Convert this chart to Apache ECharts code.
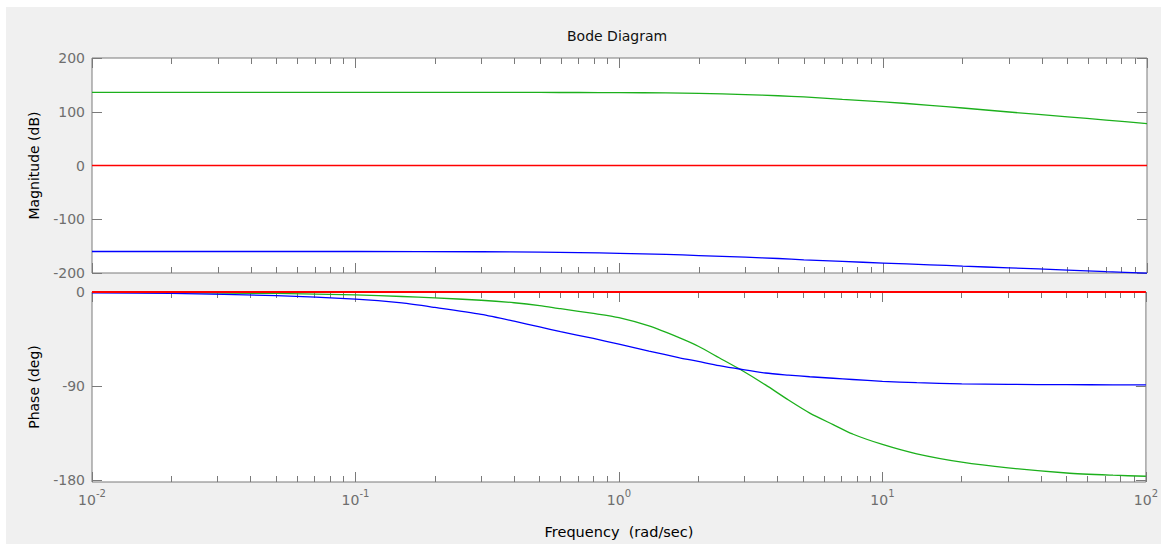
<!DOCTYPE html>
<html>
<head>
<meta charset="utf-8">
<script src="https://cdn.jsdelivr.net/npm/echarts@6/dist/echarts.min.js"></script>
<style>
html, body { margin: 0; padding: 0; background: #ffffff; width: 1169px; height: 544px; overflow: hidden; }
#chart { position: absolute; left: 6px; top: 7px; width: 1155px; height: 537px; background: #f0f0f0; }
</style>
</head>
<body>
<div id="chart"></div>
<script>
// ---- data ----
const titleText = 'Bode Diagram';
const magAxisName = 'Magnitude (dB)';
const phaseAxisName = 'Phase (deg)';
const freqAxisName = 'Frequency \u00a0(rad/sec)';

const freqMag   = [0.01, 0.1, 0.3, 0.5, 0.7, 1, 1.5, 2, 3, 4, 5, 7, 10, 15, 20, 30, 50, 70, 100];
const magGreen  = [136, 136, 136, 135.9, 135.8, 135.6, 135, 134.2, 132, 129.8, 127.5, 123, 118.5, 112, 107, 99.5, 90.5, 84.5, 78];
const magBlue   = [-160, -160, -160.5, -161, -162, -163.5, -165.5, -167.5, -170.5, -173, -175.5, -178.5, -181.5, -184.8, -187.2, -190.5, -194.5, -197.5, -200.5];

const freqPhase  = [0.01, 0.02, 0.05, 0.1, 0.15, 0.2, 0.3, 0.4, 0.5, 0.6, 0.8, 1, 1.3, 1.7, 2, 2.4, 2.9, 3.6, 4.4, 5.3, 6.5, 7.7, 10, 13.5, 20, 30, 50, 75, 100];
const phaseBlue  = [-0.7, -1.4, -3.4, -6.8, -10.5, -14.8, -21.5, -28, -33.5, -38, -44.5, -50, -56.6, -63, -66.5, -70.5, -74, -77.6, -79.6, -81.2, -82.6, -83.8, -85.6, -86.9, -88, -88.5, -88.8, -88.9, -89];
const phaseGreen = [-0.3, -0.6, -1.4, -2.8, -4.3, -5.6, -7.9, -10.3, -13, -16, -20.5, -24.5, -32.5, -44, -52, -63, -74.5, -89, -103.5, -116, -127, -136, -146, -155, -163, -168.5, -173.4, -175.5, -176.5];

const freqRed  = [0.01, 100];
const magRed   = [0, 0];
const phaseRed = [0, 0];

const magTicks   = [-200, -100, 0, 100, 200];
const phaseTicks = [-180, -90, 0];
const decadeExps = [-2, -1, 0, 1, 2];
const minorMult  = [2, 3, 4, 5, 6, 7, 8, 9];

// ---- styling ----
const FONT = 'DejaVu Sans';
const AXC = '#7a7a7a';
const LBC = '#6e6e6e';
const GREEN = '#1cb01c';
const BLUE = '#0000ff';
const RED = '#ff0000';

const minorPos = [];
decadeExps.slice(0, -1).forEach(function (e) {
  minorMult.forEach(function (k) { minorPos.push(e + Math.log10(k)); });
});

const pair = (xs, ys) => xs.map((x, i) => [x, ys[i]]);

const grids = [
  { left: 86, width: 1055, top: 51, height: 215 },
  { left: 86, width: 1055, top: 285, height: 190 }
];

function majorX(gridIndex, position, showLabels, name) {
  const ax = {
    type: 'log', logBase: 10, min: 0.01, max: 100, gridIndex: gridIndex, position: position,
    splitNumber: 4,
    axisLine: { show: false, onZero: false },
    splitLine: { show: false },
    axisTick: { show: true, inside: true, length: 10, lineStyle: { color: AXC, width: 1 } },
    axisLabel: { show: false }
  };
  if (showLabels) {
    ax.axisLabel = {
      show: true, margin: 6,
      formatter: function (v) {
        const e = Math.round(Math.log10(v));
        return '{b|10}{s|' + e + '}';
      },
      rich: {
        b: { fontFamily: FONT, fontSize: 14, color: LBC, verticalAlign: 'bottom' },
        s: { fontFamily: FONT, fontSize: 10, color: LBC, verticalAlign: 'bottom', padding: [0, 0, 9, 0] }
      }
    };
  }
  if (name) {
    ax.name = name;
    ax.nameLocation = 'middle';
    ax.nameGap = 42;
    ax.nameTextStyle = { fontFamily: FONT, fontSize: 14.5, color: '#000' };
  }
  return ax;
}
function minorX(gridIndex, position) {
  return {
    type: 'value', min: -2, max: 2, gridIndex: gridIndex, position: position,
    axisLine: { show: false, onZero: false }, splitLine: { show: false }, axisLabel: { show: false },
    axisTick: { show: true, inside: true, length: 6, customValues: minorPos, lineStyle: { color: AXC, width: 1 } }
  };
}
function yAx(gridIndex, position, min, max, ticks, labels, name) {
  const ax = {
    type: 'value', min: min, max: max, gridIndex: gridIndex, position: position,
    axisLine: { show: false, onZero: false }, splitLine: { show: false },
    axisTick: { show: true, inside: true, length: 10, customValues: ticks, lineStyle: { color: AXC, width: 1 } },
    axisLabel: labels ? { show: true, customValues: ticks, margin: 7, fontFamily: FONT, fontSize: 14, color: LBC } : { show: false }
  };
  if (name) {
    ax.name = name;
    ax.nameLocation = 'middle';
    ax.nameRotate = 90;
    ax.nameGap = 51;
    ax.nameTextStyle = { fontFamily: FONT, fontSize: 14, color: '#000' };
  }
  return ax;
}

const lineS = (color, xi, yi, xs, ys) => ({
  type: 'line', xAxisIndex: xi, yAxisIndex: yi, data: pair(xs, ys), showSymbol: false,
  smooth: 0.25, lineStyle: { color: color, width: 1.3 }, clip: true
});

const chart = echarts.init(document.getElementById('chart'), null, { renderer: 'svg' });
chart.setOption({
  animation: false,
  backgroundColor: '#f0f0f0',
  title: {
    text: titleText, left: 561, top: 22, padding: 0,
    textStyle: { fontFamily: FONT, fontSize: 14, fontWeight: 'normal', color: '#111' }
  },
  grid: grids.map(g => Object.assign({ show: true, backgroundColor: '#ffffff', borderColor: AXC, borderWidth: 1 }, g)),
  xAxis: [
    majorX(0, 'bottom', false), minorX(0, 'bottom'), majorX(0, 'top', false), minorX(0, 'top'),
    majorX(1, 'bottom', true, freqAxisName), minorX(1, 'bottom'), majorX(1, 'top', false), minorX(1, 'top')
  ],
  yAxis: [
    yAx(0, 'left', -200, 200, magTicks, true, magAxisName),
    yAx(0, 'right', -200, 200, magTicks, false),
    yAx(1, 'left', -182, 0, phaseTicks, true, phaseAxisName),
    yAx(1, 'right', -182, 0, phaseTicks, false)
  ],
  series: [
    lineS(GREEN, 0, 0, freqMag, magGreen),
    lineS(BLUE, 0, 0, freqMag, magBlue),
    lineS(RED, 0, 0, freqRed, magRed),
    lineS(GREEN, 4, 2, freqPhase, phaseGreen),
    lineS(BLUE, 4, 2, freqPhase, phaseBlue),
    { type: 'line', xAxisIndex: 4, yAxisIndex: 2, data: pair(freqRed, phaseRed), showSymbol: false, lineStyle: { color: RED, width: 2 }, clip: false, z: 5 }
  ]
});
</script>
</body>
</html>
